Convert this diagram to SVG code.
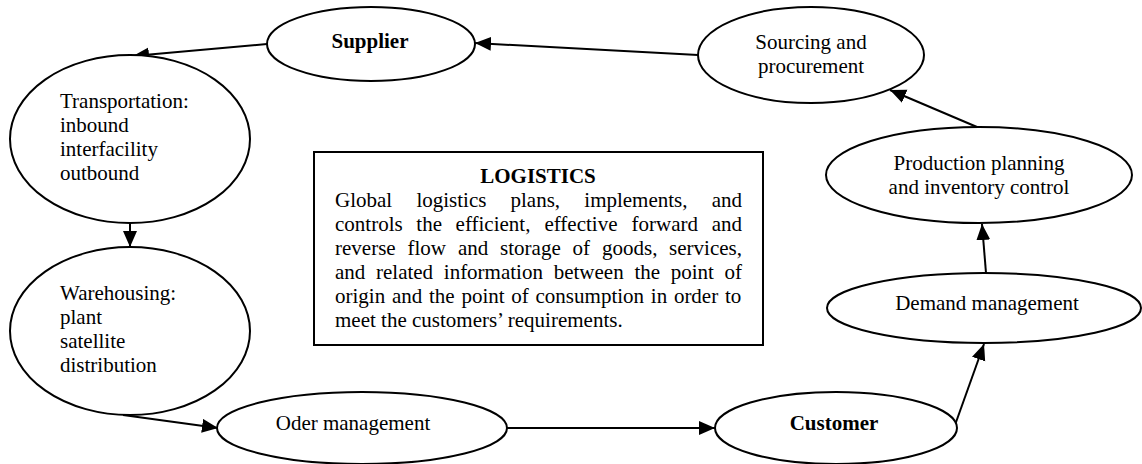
<svg xmlns="http://www.w3.org/2000/svg" width="1142" height="464" viewBox="0 0 1142 464">
<style>
  .n ellipse { fill: #fff; stroke: #000; stroke-width: 2; }
  text { font-family: "Liberation Serif", "Times New Roman", serif; font-size: 21px; fill: #000; }
  .c { text-anchor: middle; }
  .b { font-weight: bold; }
  .e { text-anchor: end; }
  #connectors line { stroke: #000; stroke-width: 2; marker-end: url(#ah); }
</style>
<defs>
  <marker id="ah" markerUnits="userSpaceOnUse" markerWidth="17" markerHeight="15" refX="16" refY="7" orient="auto">
    <path d="M0,0 L16,7 L0,14 z" fill="#000"/>
  </marker>
</defs>
<rect width="1142" height="464" fill="#fff"/>

<g id="connectors">
  <line x1="698" y1="55" x2="475" y2="43"/>
  <line x1="267" y1="44" x2="133" y2="56"/>
  <line x1="130" y1="223" x2="130" y2="247"/>
  <line x1="123" y1="415" x2="218" y2="428"/>
  <line x1="507" y1="428" x2="715" y2="428"/>
  <line x1="955" y1="425" x2="984" y2="344"/>
  <line x1="986" y1="273" x2="982" y2="224"/>
  <line x1="977" y1="127" x2="890" y2="90"/>
</g>

<g id="supplier" class="n">
  <ellipse cx="371" cy="44" rx="104" ry="37"/>
  <text x="370" y="48" class="c b">Supplier</text>
</g>
<g id="sourcing" class="n">
  <ellipse cx="811" cy="55" rx="113" ry="48"/>
  <text x="811" y="49" class="c">Sourcing and</text>
  <text x="811" y="73" class="c">procurement</text>
</g>
<g id="transportation" class="n">
  <ellipse cx="130" cy="139" rx="120" ry="84"/>
  <text x="60" y="108">Transportation:</text>
  <text x="60" y="132">inbound</text>
  <text x="60" y="156">interfacility</text>
  <text x="60" y="180">outbound</text>
</g>
<g id="warehousing" class="n">
  <ellipse cx="130" cy="331" rx="120" ry="84"/>
  <text x="60" y="300">Warehousing:</text>
  <text x="60" y="324">plant</text>
  <text x="60" y="348">satellite</text>
  <text x="60" y="372">distribution</text>
</g>
<g id="order" class="n">
  <ellipse cx="362" cy="428" rx="145" ry="36"/>
  <text x="353" y="430" class="c">Oder management</text>
</g>
<g id="customer" class="n">
  <ellipse cx="836" cy="428" rx="121" ry="36"/>
  <text x="834" y="430" class="c b">Customer</text>
</g>
<g id="demand" class="n">
  <ellipse cx="984" cy="308" rx="157" ry="35"/>
  <text x="987" y="310" class="c">Demand management</text>
</g>
<g id="production" class="n">
  <ellipse cx="979" cy="175" rx="153" ry="48"/>
  <text x="979" y="170" class="c">Production planning</text>
  <text x="979" y="194" class="c">and inventory control</text>
</g>

<g id="logistics">
  <rect x="314" y="152" width="449" height="193" fill="#fff" stroke="#000" stroke-width="2"/>
  <text x="538" y="183" class="c b">LOGISTICS</text>
  <text y="207"><tspan x="335">Global</tspan><tspan x="416.4">logistics</tspan><tspan x="510.5">plans,</tspan><tspan x="584.3">implements,</tspan></text>
  <text x="742" y="207" class="e">and</text>
  <text y="231"><tspan x="335">controls</tspan><tspan x="416.3">the</tspan><tspan x="455.6">efficient,</tspan><tspan x="544.4">effective</tspan><tspan x="631.5">forward</tspan></text>
  <text x="742" y="231" class="e">and</text>
  <text y="255"><tspan x="335">reverse</tspan><tspan x="407.5">flow</tspan><tspan x="457.9">and</tspan><tspan x="500.1">storage</tspan><tspan x="572.6">of</tspan><tspan x="602">goods,</tspan></text>
  <text x="742" y="255" class="e">services,</text>
  <text y="279"><tspan x="335">and</tspan><tspan x="376">related</tspan><tspan x="443.8">information</tspan><tspan x="553.7">between</tspan><tspan x="634.4">the</tspan><tspan x="670.7">point</tspan></text>
  <text x="742" y="279" class="e">of</text>
  <text x="335" y="303" word-spacing="1.5">origin and the point of consumption in order to</text>
  <text x="335" y="327">meet the customers’ requirements.</text>
</g>
</svg>
